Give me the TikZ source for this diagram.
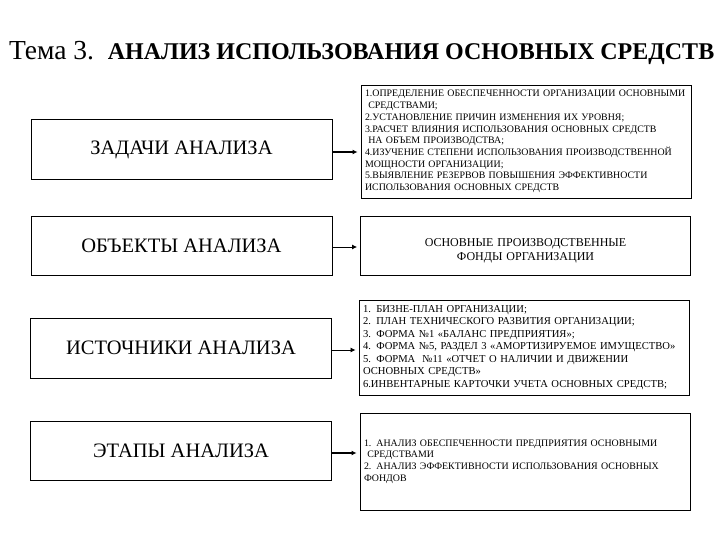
\documentclass[tikz,border=0pt]{standalone}
\usepackage{fontspec}
\setmainfont{Liberation Serif}
\newfontfamily\headfont{Liberation Serif}
\usetikzlibrary{positioning,arrows.meta}
\tikzset{
  task box/.style={
    draw,
    line width=1pt,
    minimum width=301pt,
    minimum height={#1},
    font=\rmfamily\fontsize{20.5}{22}\selectfont,
  },
  list box/.style={
    draw,
    line width=0.9pt,
    minimum height={#1},
    text width=322pt,
    inner xsep=4pt,
    align=left,
    font=\rmfamily\fontsize{9.9}{11.7}\selectfont,
  },
  link/.style={
    -{Latex[length=5pt,width=5pt]},
    line width=#1,
    shorten >=3pt,
  }
}

\begin{document}
\begin{tikzpicture}[x=1pt,y=-1pt]
        \useasboundingbox (0,0) rectangle (720,540);

        \node [anchor=base west, inner sep=0pt, font=\headfont] (title) at (9,60)
          {\fontsize{27.5}{30}\selectfont Тема 3.\ \ \bfseries\fontsize{24}{26}\selectfont АНАЛИЗ ИСПОЛЬЗОВАНИЯ ОСНОВНЫХ СРЕДСТВ};

        \node [task box=60pt] (tasks) at (181.5,150) {ЗАДАЧИ АНАЛИЗА};
        \node [task box=58pt] (objects) at (181.5,246) {ОБЪЕКТЫ АНАЛИЗА};
        \node [task box=60pt] (sources) at (181,348) {ИСТОЧНИКИ АНАЛИЗА};
        \node [task box=59pt] (stages) at (181,450.5) {ЭТАПЫ АНАЛИЗА};

        \node [list box=113pt] (tasks list) at (526,141.5) {%
          1.ОПРЕДЕЛЕНИЕ ОБЕСПЕЧЕННОСТИ ОРГАНИЗАЦИИ ОСНОВНЫМИ\\
          \ СРЕДСТВАМИ;\\
          2.УСТАНОВЛЕНИЕ ПРИЧИН ИЗМЕНЕНИЯ ИХ УРОВНЯ;\\
          3.РАСЧЕТ ВЛИЯНИЯ ИСПОЛЬЗОВАНИЯ ОСНОВНЫХ СРЕДСТВ\\
          \ НА ОБЪЕМ ПРОИЗВОДСТВА;\\
          4.ИЗУЧЕНИЕ СТЕПЕНИ ИСПОЛЬЗОВАНИЯ ПРОИЗВОДСТВЕННОЙ\\
          МОЩНОСТИ ОРГАНИЗАЦИИ;\\
          5.ВЫЯВЛЕНИЕ РЕЗЕРВОВ ПОВЫШЕНИЯ ЭФФЕКТИВНОСТИ\\
          ИСПОЛЬЗОВАНИЯ ОСНОВНЫХ СРЕДСТВ};
        \node [list box=59pt, align=center, font=\rmfamily\fontsize{12}{14}\selectfont] (objects list) at (525.5,245.5) {%
          \rule{0pt}{18pt}ОСНОВНЫЕ ПРОИЗВОДСТВЕННЫЕ\\
          ФОНДЫ ОРГАНИЗАЦИИ};
        \node [list box=95pt, font=\rmfamily\fontsize{10.6}{12.5}\selectfont] (sources list) at (524,347.5) {%
          1. БИЗНЕ-ПЛАН ОРГАНИЗАЦИИ;\\
          2. ПЛАН ТЕХНИЧЕСКОГО РАЗВИТИЯ ОРГАНИЗАЦИИ;\\
          3. ФОРМА №1 «БАЛАНС ПРЕДПРИЯТИЯ»;\\
          4. ФОРМА №5, РАЗДЕЛ 3 «АМОРТИЗИРУЕМОЕ ИМУЩЕСТВО»\\
          5. ФОРМА \ №11 «ОТЧЕТ О НАЛИЧИИ И ДВИЖЕНИИ\\
          ОСНОВНЫХ СРЕДСТВ»\\
          6.ИНВЕНТАРНЫЕ КАРТОЧКИ УЧЕТА ОСНОВНЫХ СРЕДСТВ;};
        \node [list box=97pt] (stages list) at (525,461.5) {%
          1. АНАЛИЗ ОБЕСПЕЧЕННОСТИ ПРЕДПРИЯТИЯ ОСНОВНЫМИ\\
          \ СРЕДСТВАМИ\\
          2. АНАЛИЗ ЭФФЕКТИВНОСТИ ИСПОЛЬЗОВАНИЯ ОСНОВНЫХ\\
          ФОНДОВ};

        \draw [link=1.4pt] ([yshift=-2pt]tasks.east) -- ([yshift=-2pt]tasks.east -| tasks list.west);
        \draw [link=0.8pt] ([yshift=-1pt]objects.east) -- ([yshift=-1pt]objects.east -| objects list.west);
        \draw [link=0.8pt] ([yshift=-2pt]sources.east) -- ([yshift=-2pt]sources.east -| sources list.west);
        \draw [link=1.4pt] ([yshift=-2.5pt]stages.east) -- ([yshift=-2.5pt]stages.east -| stages list.west);
      \end{tikzpicture}
\end{document}
